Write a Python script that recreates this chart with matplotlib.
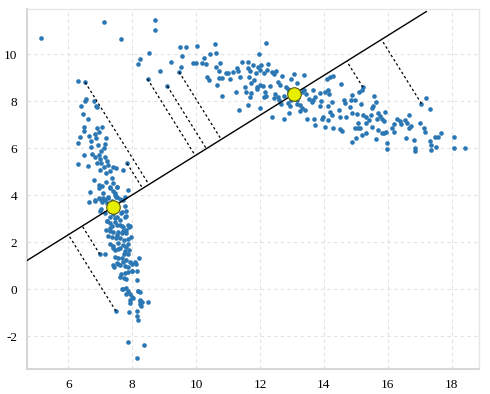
import numpy as np
import matplotlib
matplotlib.use('Agg')
import matplotlib.pyplot as plt

plt.rcParams['font.family'] = ['Liberation Serif', 'DejaVu Serif']
plt.rcParams['axes.unicode_minus'] = False

# left (tall) cluster
left_x = [5.14, 7.11, 7.66,
          6.32, 6.53, 6.55, 6.54, 6.40, 6.45, 6.80, 6.87, 6.91, 6.63, 6.49, 6.50, 6.38, 6.32, 6.64, 6.70,
          6.83, 6.91, 6.97, 7.07, 6.87, 7.19, 7.16, 6.93, 6.70, 6.49, 6.32, 6.62, 6.74, 6.83, 6.95, 7.04,
          7.12, 7.00, 6.89, 7.04, 7.15, 7.22, 7.12, 7.25, 7.00, 7.18, 7.30, 7.41, 7.49, 7.84, 7.71, 7.36,
          7.41, 7.18, 6.81, 6.95, 7.30, 7.54, 7.88, 6.68, 6.95, 7.46, 7.77, 7.25, 7.49, 7.10,
          6.97, 7.07, 7.32, 7.41, 7.53,
          6.83, 6.99, 7.07, 7.15, 7.25, 7.46, 7.62, 7.72, 7.77,
          7.04, 7.15, 7.30, 7.41, 7.53, 7.64, 7.77, 7.80,
          7.20, 7.32, 7.46, 7.62, 7.72, 7.88, 7.91,
          7.18, 7.30, 7.41, 7.56, 7.67, 7.82,
          7.25, 7.36, 7.49, 7.62, 7.74, 7.88,
          7.30, 7.41, 7.56, 7.70, 7.82, 7.88,
          7.46, 7.62, 7.77, 7.88, 6.99, 7.15,
          7.46, 7.56, 7.67, 7.82, 7.93, 8.08, 8.22,
          7.41, 7.51, 7.62, 7.77, 7.88, 7.98,
          7.64, 7.77, 7.88, 7.98, 8.14, 8.12,
          7.74, 8.16,
          7.72, 7.82, 7.88, 7.93, 7.98, 8.19, 8.24,
          7.93, 8.03, 8.24, 8.24, 8.29, 8.50,
          8.16, 7.91, 7.49, 8.14, 8.19,
          7.88, 8.37, 8.15,
          7.10, 7.22, 7.36, 7.51, 7.67, 7.82, 7.30, 7.46, 7.62, 7.22, 7.36, 7.51, 7.67, 7.93, 7.30, 7.51,
          7.72, 7.80, 7.95, 7.41, 7.56, 7.74, 7.91, 7.43, 8.01, 7.62, 7.82, 7.67, 7.80, 7.92, 8.31, 8.26,
          8.17, 7.56, 7.72, 6.66, 6.84, 6.99]
left_y = [10.68, 11.39, 10.65,
          8.85, 8.81, 8.08, 8.01, 7.80, 7.45, 8.00, 7.80, 7.74, 7.23, 6.92, 6.75, 6.49, 6.24, 6.52, 6.32,
          6.61, 6.86, 6.71, 6.92, 6.42, 6.42, 6.18, 6.14, 6.07, 5.71, 5.32, 5.26, 5.76, 5.64, 5.73, 5.90,
          6.00, 5.53, 5.36, 5.36, 5.64, 5.47, 5.22, 5.29, 5.08, 4.93, 5.05, 5.22, 5.15, 5.36, 5.08, 4.72,
          4.54, 4.58, 4.65, 4.44, 4.34, 4.34, 4.23, 4.16, 3.87, 4.08, 3.91, 3.94, 3.91, 4.08,
          4.32, 4.41, 4.30, 4.18, 4.37,
          3.76, 3.84, 3.70, 3.80, 3.87, 4.01, 3.84, 3.80, 3.56,
          3.42, 3.23, 3.33, 3.19, 3.09, 3.23, 3.09, 3.13,
          2.91, 2.81, 2.88, 2.74, 2.66, 2.74, 2.66,
          2.52, 2.59, 2.45, 2.45, 2.38, 2.52,
          2.28, 2.24, 2.17, 2.20, 2.10, 2.14,
          1.91, 1.86, 1.96, 1.88, 1.81, 1.91,
          1.67, 1.74, 1.63, 1.49, 1.49, 1.49,
          1.39, 1.35, 1.32, 1.25, 1.18, 1.18, 1.35,
          1.03, 1.10, 1.03, 1.01, 0.96, 1.06,
          0.64, 0.68, 0.72, 0.78, 0.78, 1.06,
          0.50, 0.40,
          0.02, 0.07, -0.07, -0.21, -0.31, -0.07, -0.13,
          -0.46, -0.38, -0.50, -0.64, -0.71, -0.55,
          -0.91, -0.98, -0.92, -1.12, -1.31,
          -2.23, -2.37, -2.91,
          3.88, 3.66, 3.74, 3.91, 3.28, 3.35, 3.06, 3.03, 2.95, 2.92, 2.71, 2.75, 2.71, 2.71, 2.50, 2.33,
          2.50, 2.38, 2.21, 1.76, 1.71, 1.50, 1.67, 0.96, 0.76, 0.51, 0.44, 0.01, -0.20, -0.60, -0.56, -0.46,
          -0.06, 1.08, 1.15, 3.70, 3.80, 3.35]

# right (wide) cluster
right_x = [8.70, 8.71,
           8.18, 8.23, 8.53, 8.48, 8.87, 9.10, 9.21, 9.49, 9.69, 9.57, 9.52, 9.47, 10.02, 9.91, 9.99, 10.20,
           10.24, 10.32, 10.34, 10.39, 10.44, 10.60, 10.62, 10.61, 10.76, 10.71, 10.82, 10.71, 10.66, 10.81,
           10.93, 11.01, 11.07, 11.16, 11.27, 11.30, 11.43, 11.37, 11.25, 11.35,
           12.18, 11.61, 11.61, 11.70, 11.79, 11.94, 11.96, 12.03, 12.01, 12.13, 12.21, 12.25, 12.36, 12.44,
           12.49, 12.69, 12.56, 12.63, 12.98, 13.06, 13.16, 13.38, 11.65, 11.81, 11.71, 11.89, 12.10, 12.17,
           12.12, 12.20, 12.30, 12.46, 12.59, 12.75, 12.86, 12.88, 12.94, 11.99, 11.63, 12.39, 12.75, 12.92,
           13.24, 13.31, 13.24, 13.38, 13.45, 13.52, 13.66, 13.73, 13.66, 13.87, 13.92, 14.02, 14.13, 14.15,
           14.11, 14.18, 14.28, 14.13, 13.88, 13.98, 13.94, 13.46, 13.69, 13.71, 14.25, 14.27, 14.49, 14.46,
           14.49, 14.56, 14.54, 14.63, 14.65, 14.70, 14.83, 14.86, 14.89, 14.96, 14.88, 15.04, 15.08, 15.12,
           15.06, 14.96, 15.17, 15.22, 15.11, 15.19, 15.22, 15.32, 15.30, 15.40, 15.48, 15.53, 15.51, 15.58,
           15.64, 15.69, 15.74, 15.81, 15.90, 15.88, 15.65, 15.51, 15.32, 15.19, 15.01, 14.88, 15.64, 15.81,
           15.95, 15.98, 15.96, 16.13, 16.19, 16.27, 16.38, 16.42, 16.52, 16.65, 16.67, 16.71, 16.61, 16.56,
           16.83, 16.86, 16.86, 17.01, 17.12, 17.15, 17.31, 17.36, 17.49, 17.36, 17.48, 17.56, 17.67, 17.20,
           17.32, 17.05, 18.08, 18.06, 18.40, 16.18, 15.88, 15.69, 14.25, 14.18, 14.13, 14.02, 13.63, 13.40,
           13.16, 12.98, 12.67, 12.56, 12.44, 11.86, 11.99, 11.73, 11.89, 11.52, 11.57, 11.68,
           13.00, 13.10, 12.90, 13.20, 12.80, 13.30, 12.95, 13.15]
right_y = [11.45, 11.03,
           9.57, 9.81, 10.04, 8.95, 9.28, 8.65, 9.69, 10.32, 10.32, 9.93, 9.47, 9.25, 10.35, 9.64, 9.62, 9.62,
           9.86, 9.59, 9.05, 8.89, 10.01, 10.42, 10.04, 9.47, 9.64, 9.28, 8.98, 8.98, 8.68, 8.24,
           9.22, 9.19, 8.93, 9.25, 9.40, 9.29, 9.67, 9.02, 8.38, 7.63,
           10.47, 9.69, 9.43, 9.30, 9.53, 9.47, 10.00, 9.55, 9.32, 9.22, 9.33, 9.60, 9.26, 9.16,
           9.30, 9.08, 8.84, 8.69, 8.96, 9.16, 8.79, 9.12, 9.02, 8.91, 8.77, 8.59, 8.65, 8.41,
           8.20, 8.23, 8.65, 8.31, 8.06, 8.22, 8.51, 7.91, 7.80, 7.70, 7.83, 7.35, 7.26, 7.49,
           7.83, 7.70, 7.59, 8.48, 8.31, 8.11, 8.48, 8.20, 8.06, 8.34, 8.03, 8.41, 8.48, 8.31,
           8.93, 9.02, 9.08, 7.80, 7.80, 7.35, 7.27, 7.23, 7.27, 6.99, 7.98, 6.88, 7.32, 7.63,
           6.81, 6.75, 8.74, 8.06, 7.91, 7.32, 7.77, 8.06, 8.27, 8.06, 7.49, 7.46, 7.06, 6.85,
           6.88, 6.85, 7.89, 8.60, 8.41, 8.48, 7.42, 7.35, 7.06, 7.20, 7.42, 7.80, 7.70, 8.23,
           7.99, 7.52, 7.37, 7.27, 7.56, 7.17, 7.27, 6.92, 6.64, 6.57, 6.45, 6.28, 6.38, 6.64,
           6.71, 6.21, 5.97, 6.85, 7.03, 7.23, 7.18, 7.02, 7.20, 7.42, 6.88, 6.95, 7.09, 6.44,
           6.35, 6.00, 5.90, 7.09, 6.85, 6.68, 6.32, 6.13, 6.07, 5.93, 6.47, 6.47, 6.66, 8.14,
           7.66, 7.90, 6.47, 6.01, 6.00, 6.71, 6.64, 6.78, 7.42, 7.56, 7.20, 6.92, 7.98, 7.63,
           7.89, 8.06, 7.89, 8.20, 8.13, 9.22, 8.69, 8.34, 8.51, 8.60, 8.41, 8.20,
           8.10, 8.50, 8.40, 8.20, 8.60, 8.40, 8.25, 8.05]

# cluster centres
cent_x = [7.39, 13.05]
cent_y = [3.50, 8.30]

# x range covered by the solid line through the centres
line_x = [4.71, 17.2]

# points that get a dashed projection onto the line
proj_x = [6.53, 7.84, 6.99, 7.49, 8.48, 9.10, 9.47, 15.22, 17.05]
proj_y = [8.81, 5.36, 1.49, -0.92, 8.95, 8.65, 9.25, 8.60, 7.90]

fig = plt.figure(figsize=(4.9, 3.94), dpi=100)
ax = fig.add_axes([27 / 490, 25 / 394, 452 / 490, 360 / 394])
ax.set_xlim(4.71, 18.85)
ax.set_ylim(-3.39, 11.93)

# grid and frame
ax.set_axisbelow(True)
ax.grid(True, color='#e2e2e2', linestyle=(0, (3, 3)), linewidth=0.8)
for side in ['left', 'bottom']:
    ax.spines[side].set_color('#d6d6d6')
    ax.spines[side].set_linewidth(1.5)
for side in ['top', 'right']:
    ax.spines[side].set_color('#e6e6e6')
    ax.spines[side].set_linewidth(1.0)
ax.set_xticks(range(6, 19, 2))
ax.set_yticks(range(-2, 11, 2))
ax.tick_params(length=0, pad=7, labelsize=9.5)

# scatter points
ax.scatter(left_x + right_x, left_y + right_y, s=11, color='#2a77b4', linewidths=0, zorder=2)

# solid line through both centres
slope = (cent_y[1] - cent_y[0]) / (cent_x[1] - cent_x[0])
line_y = [cent_y[0] + slope * (x - cent_x[0]) for x in line_x]
ax.plot(line_x, line_y, color='black', linewidth=1.0, zorder=3)

# dashed projections, perpendicular on screen
T = ax.transData
c0 = T.transform((cent_x[0], cent_y[0]))
c1 = T.transform((cent_x[1], cent_y[1]))
d = (c1 - c0) / np.linalg.norm(c1 - c0)
for px, py in zip(proj_x, proj_y):
    p = T.transform((px, py))
    foot = c0 + np.dot(p - c0, d) * d
    fx, fy = T.inverted().transform(foot)
    ax.plot([px, fx], [py, fy], color='black', linewidth=0.9, linestyle=(0, (2, 2)), zorder=3)

# centres
ax.scatter(cent_x, cent_y, s=95, color='#e6ef00', edgecolors='#5a5a10', linewidths=0.8, zorder=4)

fig.savefig('out.png', dpi=100)
